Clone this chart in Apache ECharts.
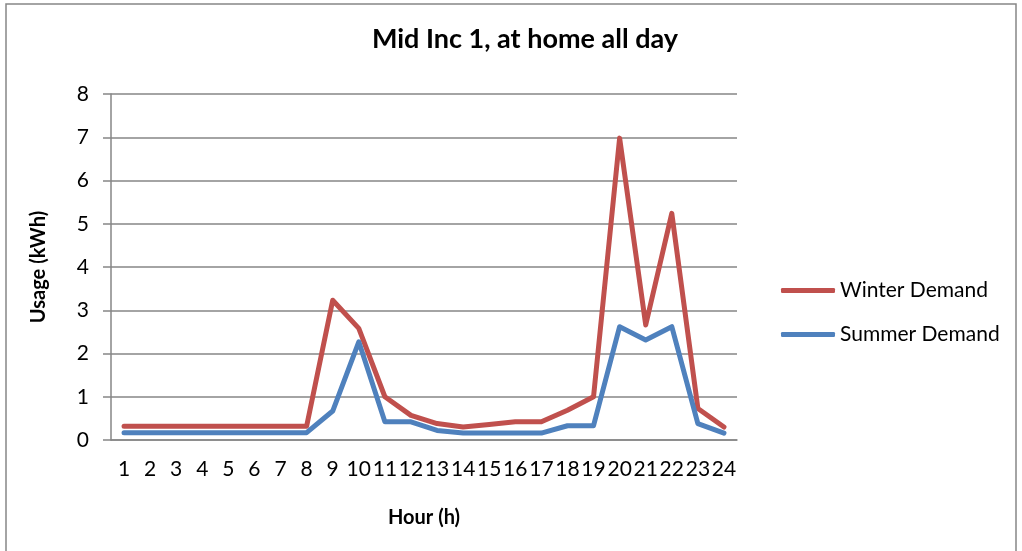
<!DOCTYPE html>
<html>
<head>
<meta charset="utf-8">
<script src="https://cdn.jsdelivr.net/npm/echarts@6/dist/echarts.min.js"></script>
<style>
  html, body { margin: 0; padding: 0; background: #ffffff; }
  #chart { width: 1022px; height: 551px; }
</style>
</head>
<body>
<div id="chart"></div>
<script>
// Hourly electricity usage for a mid-income household, home all day
const hours = ['1','2','3','4','5','6','7','8','9','10','11','12',
               '13','14','15','16','17','18','19','20','21','22','23','24'];
const winterDemand = [0.32,0.32,0.32,0.32,0.32,0.32,0.32,0.32,3.23,2.58,1.0,0.57,
                      0.38,0.30,0.36,0.42,0.42,0.69,1.0,6.98,2.66,5.24,0.73,0.30];
const summerDemand = [0.17,0.17,0.17,0.17,0.17,0.17,0.17,0.17,0.67,2.27,0.42,0.42,
                      0.22,0.16,0.16,0.16,0.16,0.33,0.33,2.62,2.31,2.62,0.38,0.16];
const yTicks = { min: 0, max: 8, interval: 1 };

const FONT = 'Lato';
const GRAY = '#868686';

const chart = echarts.init(document.getElementById('chart'), null, { renderer: 'canvas' });

chart.setOption({
  backgroundColor: '#ffffff',
  animation: false,
  title: {
    text: 'Mid Inc 1, at home all day',
    left: 520,
    textAlign: 'center',
    top: 21,
    textStyle: { fontFamily: FONT, fontSize: 27, fontWeight: 'bold', color: '#000000' }
  },
  graphic: [{
    type: 'rect',
    shape: { x: 6, y: 4, width: 1010, height: 560 },
    style: { fill: 'none', stroke: GRAY, lineWidth: 1.5 },
    silent: true
  }],
  legend: [
    {
      data: ['Winter Demand'],
      left: 776, top: 275,
      icon: 'roundRect', itemWidth: 54, itemHeight: 5,
      textStyle: { fontFamily: FONT, fontSize: 21, color: '#000000' }
    },
    {
      data: ['Summer Demand'],
      left: 776, top: 319,
      icon: 'roundRect', itemWidth: 54, itemHeight: 5,
      textStyle: { fontFamily: FONT, fontSize: 21, color: '#000000' }
    }
  ],
  grid: { left: 111, right: 285, top: 94, bottom: 111, containLabel: false },
  xAxis: {
    type: 'category',
    data: hours,
    boundaryGap: true,
    name: 'Hour (h)',
    nameLocation: 'middle',
    nameGap: 68,
    nameTextStyle: { fontFamily: FONT, fontSize: 20, fontWeight: 'bold', color: '#000000' },
    axisLine: { show: true, lineStyle: { color: GRAY, width: 1.5 } },
    axisTick: { show: false },
    axisLabel: { interval: 0, margin: 19, fontFamily: FONT, fontSize: 21, color: '#000000' },
    splitLine: { show: false }
  },
  yAxis: {
    type: 'value',
    min: yTicks.min, max: yTicks.max, interval: yTicks.interval,
    name: 'Usage (kWh)',
    nameLocation: 'middle',
    nameGap: 62,
    nameRotate: 90,
    nameTextStyle: { fontFamily: FONT, fontSize: 20, fontWeight: 'bold', color: '#000000' },
    axisLine: { show: true, lineStyle: { color: GRAY, width: 1.5 } },
    axisTick: { show: true, inside: false, length: 8, lineStyle: { color: GRAY, width: 1.5 } },
    axisLabel: { margin: 22, fontFamily: FONT, fontSize: 21, color: '#000000' },
    splitLine: { show: true, lineStyle: { color: GRAY, width: 1.5 } }
  },
  series: [
    {
      name: 'Winter Demand',
      type: 'line',
      data: winterDemand,
      symbol: 'none',
      color: '#C0504D',
      lineStyle: { width: 5, color: '#C0504D', cap: 'round', join: 'round' }
    },
    {
      name: 'Summer Demand',
      type: 'line',
      data: summerDemand,
      symbol: 'none',
      color: '#4F81BD',
      lineStyle: { width: 5, color: '#4F81BD', cap: 'round', join: 'round' }
    }
  ]
});
</script>
</body>
</html>
